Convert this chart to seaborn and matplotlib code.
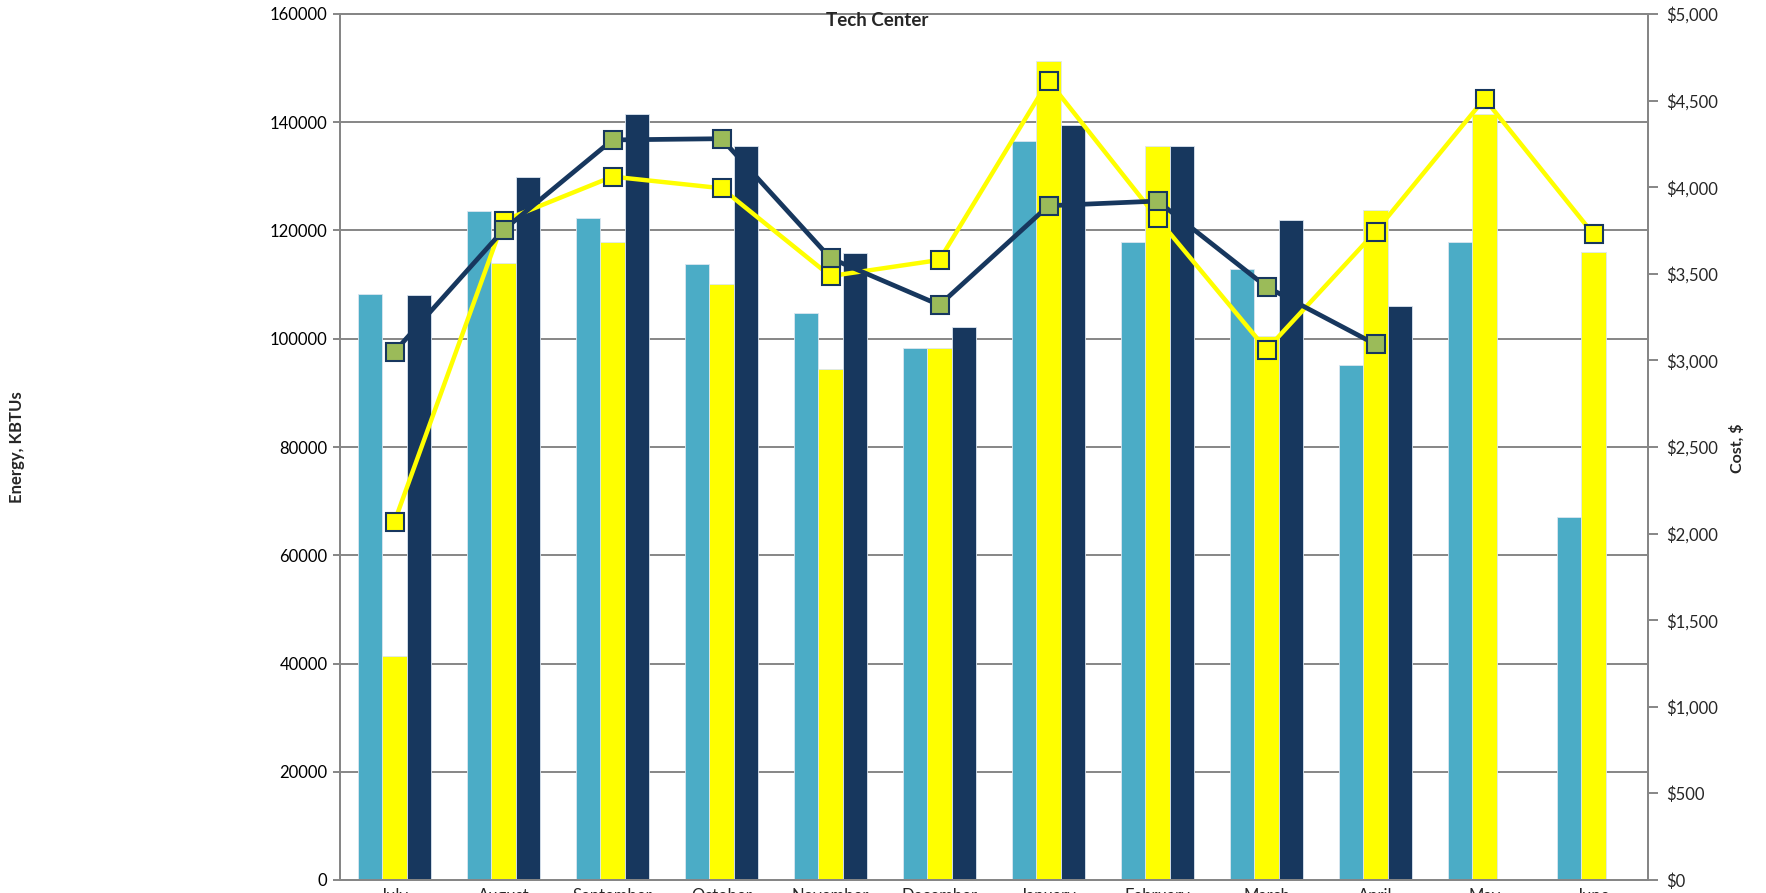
import numpy as np
import pandas as pd
import matplotlib
matplotlib.use("Agg")
import matplotlib.pyplot as plt
import seaborn as sns
from matplotlib.ticker import FuncFormatter, MultipleLocator, FixedLocator

months = ["July", "August", "September", "October", "November", "December",
          "January", "February", "March", "April", "May", "June"]
series_names = ["FY1 Energy", "FY2 Energy", "FY3 Energy"]

energy_teal = [108300, 123600, 122400, 113800, 104700, 98300,
               136600, 117900, 112800, 95100, 117900, 67000]
energy_yellow = [41300, 114000, 117900, 110100, 94400, 98300,
                 151400, 135600, 100500, 123800, 141500, 116000]
energy_navy = [108100, 129800, 141500, 135600, 115900, 102200,
               139500, 135600, 121900, 106100, np.nan, np.nan]

cost_yellow = [2069, 3807, 4061, 3994, 3487, 3580, 4615, 3820, 3062, 3743, 4511, 3728]
cost_navy = [3050, 3753, 4273, 4280, 3590, 3320, 3893, 3920, 3425, 3093, np.nan, np.nan]

teal = "#4BACC6"
yellow = "#FFFF00"
navy = "#17375E"
green = "#9BBB59"
grid_gray = "#868686"

sns.set_style("white")
plt.rcParams["font.family"] = ["Lato", "DejaVu Sans"]

df = pd.DataFrame({
    "month": months * 3,
    "series": [series_names[0]] * 12 + [series_names[1]] * 12 + [series_names[2]] * 12,
    "energy": energy_teal + energy_yellow + energy_navy,
})

W, H = 1766, 893
fig = plt.figure(figsize=(W / 100, H / 100), dpi=100)
ax = fig.add_axes([340 / W, 1 - 880 / H, 1308 / W, 866 / H])

sns.barplot(data=df, x="month", y="energy", hue="series", order=months,
            hue_order=series_names, palette=[teal, yellow, navy], saturation=1,
            width=0.67, edgecolor="#DCE6F0", linewidth=0.6, ax=ax, legend=False,
            zorder=2)

ax.set_xlim(-0.5, len(months) - 0.5)
ax.set_ylim(0, 160000)
ax.yaxis.set_major_locator(MultipleLocator(20000))
ax.yaxis.grid(True, color=grid_gray, linewidth=1.4, zorder=0)
ax.set_axisbelow(True)
ax.set_xlabel("")
ax.set_ylabel("")
ax.tick_params(axis="y", which="major", direction="out", length=5, width=1.4,
               color=grid_gray, labelsize=12, pad=4, labelcolor="black")
# category labels at centers, separator ticks at boundaries
ax.set_xticks(np.arange(len(months)))
ax.set_xticklabels(months)
ax.xaxis.set_minor_locator(FixedLocator(np.arange(len(months) + 1) - 0.5))
ax.tick_params(axis="x", which="major", length=0, labelsize=12, pad=6)
ax.tick_params(axis="x", which="minor", length=16, width=1.4, color=grid_gray, direction="out")
for s in ["left", "right", "bottom", "top"]:
    ax.spines[s].set_color(grid_gray)
    ax.spines[s].set_linewidth(1.4)

ax2 = ax.twinx()
x_pos = np.arange(len(months))
sns.lineplot(x=x_pos, y=cost_yellow, ax=ax2, color=yellow, linewidth=3.2,
             marker="s", markersize=13, markerfacecolor=yellow,
             markeredgecolor=navy, markeredgewidth=1.5, estimator=None, sort=False,
             zorder=3)
sns.lineplot(x=x_pos, y=cost_navy, ax=ax2, color=navy, linewidth=3.4,
             marker="s", markersize=13, markerfacecolor=green,
             markeredgecolor=navy, markeredgewidth=1.5, estimator=None, sort=False,
             zorder=4)
ax2.set_ylim(0, 5000)
ax2.set_xlim(-0.5, len(months) - 0.5)
ax2.yaxis.set_major_locator(MultipleLocator(500))
ax2.yaxis.set_major_formatter(FuncFormatter(lambda v, p: "${:,.0f}".format(v)))
ax2.tick_params(axis="y", direction="out", length=7, width=1.4, color=grid_gray,
                labelsize=12, pad=6)
ax2.set_ylabel("")
for s in ["left", "right", "bottom", "top"]:
    ax2.spines[s].set_color(grid_gray)
    ax2.spines[s].set_linewidth(1.4)

fig.text(877 / W, 1 - 20 / H, "Tech Center", ha="center", va="center",
         fontsize=13.5, fontweight="bold")
fig.text(17 / W, 1 - 447 / H, "Energy, KBTUs", ha="center", va="center",
         rotation=90, fontsize=12, fontweight="bold")
fig.text(1737 / W, 1 - 448 / H, "Cost, $", ha="center", va="center",
         rotation=90, fontsize=11.5, fontweight="bold")

fig.savefig("out.png", dpi=100)
